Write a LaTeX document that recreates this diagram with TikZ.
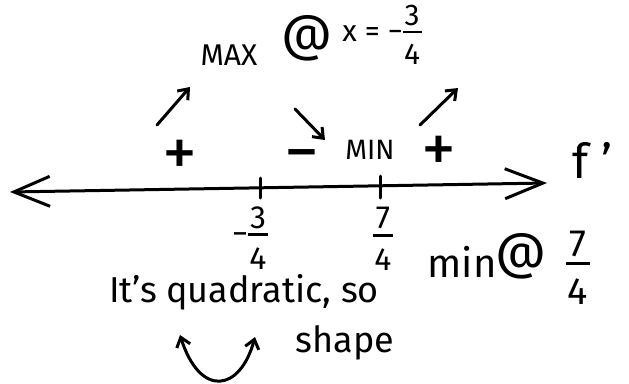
\documentclass[tikz,border=0pt]{standalone}
\usepackage{fontspec}
\setmainfont{Fira Sans}
\usetikzlibrary{arrows.meta,positioning}
\newcommand{\frc}[2]{$\vcenter{\hbox{\shortstack{#1\\[0.06em]\rule{0.62em}{0.08em}\\[0.28em]#2}}}$}

\begin{document}
\begin{tikzpicture}[x=1pt, y=-1pt, >={Straight Barb[length=9pt,width=14pt]},
  ink/.style={line width=3pt, line cap=round, line join=round},
  lbl/.style={font=\fontsize{32}{34}\selectfont, inner sep=0pt},
  big/.style={font=\fontsize{36}{38}\selectfont, inner sep=0pt},
  sgn/.style={font=\fontsize{70}{72}\selectfont, inner sep=0pt},
  atsign/.style={font=\fontsize{50}{52}\selectfont, inner sep=0pt},
  trend/.style={ink, ->}
]
\useasboundingbox (0,0) rectangle (629,383);
% number line
\coordinate (lineL) at (10,192);
\coordinate (lineR) at (547,183);
\draw[ink, {Straight Barb[length=36pt,width=30pt]}-{Straight Barb[length=38pt,width=30pt]}]
  (lineL) -- (lineR);
\coordinate (tA) at (260,188);
\coordinate (tB) at (380,187);
\draw[ink] (tA) ++(0,-10) -- ++(0,20);
\draw[ink] (tB) ++(0,-11) -- ++(0,22);
\node[lbl] (critA) at (250,238) {−\frc{3}{4}};
\node[lbl] (critB) at (383,239) {\frc{7}{4}};
\node[font=\fontsize{48}{50}\selectfont, anchor=west, inner sep=0pt] (fp) at (572,160) {f '};
% signs
\node[sgn] (s1) at (180,158) {+};
\node[sgn] (s2) at (302,163) {−};
\node[sgn] (s3) at (439,154) {+};
\node[lbl, font=\fontsize{28}{30}\selectfont] (minT) at (370,150) {MIN};
% trends
\coordinate (u1a) at (157,125);
\coordinate (u1b) at (190,87);
\coordinate (d1a) at (295,109);
\coordinate (d1b) at (325,140);
\coordinate (u2a) at (420,125);
\coordinate (u2b) at (458,88);
\draw[trend] (u1a) -- (u1b);
\draw[trend] (d1a) -- (d1b);
\draw[trend] (u2a) -- (u2b);
% max
\node[lbl, font=\fontsize{30}{32}\selectfont] (maxT) at (229,55) {MAX};
\node[atsign] (maxAt) at (307,38) {@};
\node[lbl, font=\fontsize{30}{32}\selectfont] (maxX) at (382,35) {x = −\frc{3}{4}};
% min
\node[big, font=\fontsize{40}{42}\selectfont] (minW) at (462,262) {min};
\node[atsign] (minAt) at (521,256) {@};
\node[lbl, font=\fontsize{38}{40}\selectfont] (minX) at (578,268) {\frc{7}{4}};
% shape
\node[big] (quad) at (244,292) {It's quadratic, so};
\node[big] (shp) at (345,343) {shape};
\coordinate (cupL) at (180,335);
\coordinate (cupR) at (255,337);
\draw[ink, <->] (cupL) .. controls (200,398) and (240,392) .. (cupR);
\end{tikzpicture}
\end{document}
